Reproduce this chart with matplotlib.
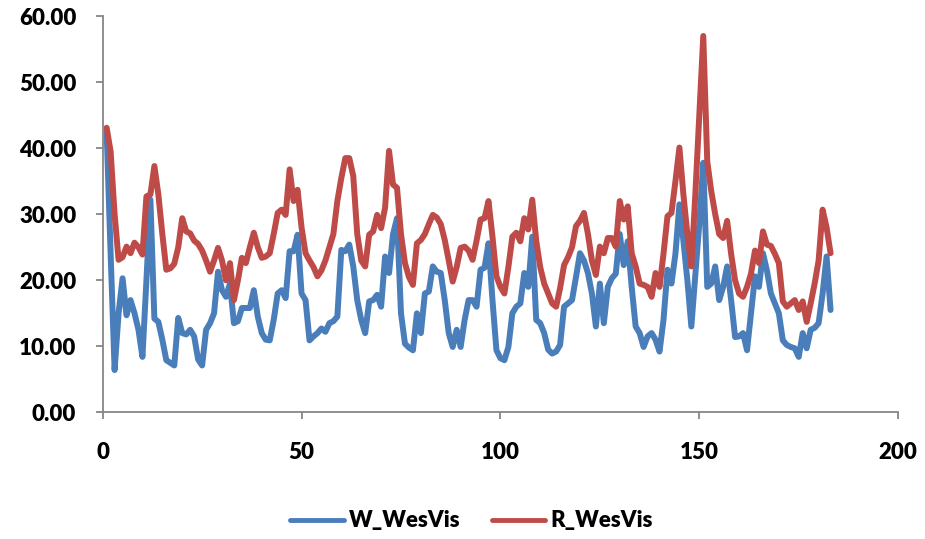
import numpy as np
import matplotlib
matplotlib.use("Agg")
import matplotlib.pyplot as plt

plt.rcParams['font.family'] = ['Lato', 'DejaVu Sans']
plt.rcParams['font.weight'] = 'heavy'

# series values, day index 1..183
w_wesvis = [42.4, 24, 6.4, 15, 20.3, 14.7, 17, 15, 12.5, 8.4,
            20, 32.2, 14.2, 13.7, 11, 7.9, 7.5, 7.1, 14.3, 12,
            11.8, 12.5, 11.5, 8, 7.1, 12.5, 13.5, 15, 21.3, 18.5,
            17.5, 19.5, 13.5, 13.8, 15.8, 15.8, 15.8, 18.5, 14.5, 12,
            11, 10.9, 14, 18, 18.5, 17.3, 24.4, 24.4, 26.9, 18,
            17, 10.9, 11.5, 12, 12.7, 12.2, 13.5, 13.8, 14.5, 24.6,
            24.4, 25.4, 22.1, 17, 14, 12, 16.8, 17, 17.8, 16,
            23.6, 21.1, 27, 29.4, 15, 10.4, 9.8, 9.4, 15, 12,
            18, 18.3, 22.1, 21.3, 21.1, 17, 12, 9.9, 12.5, 9.9,
            14, 17, 17, 16, 21.6, 21.9, 25.6, 17, 9.4, 8.2,
            7.9, 9.9, 15, 16, 16.5, 21.1, 19, 26.6, 14, 13.5,
            12, 9.5, 8.9, 9.2, 10.2, 16, 16.5, 17, 20.5, 24.1,
            23, 21.1, 18, 13, 19.5, 13.5, 19, 20.3, 21, 27,
            22.3, 25.9, 19, 13, 12, 9.9, 11.5, 12, 11, 9.2,
            14, 21.6, 19.5, 24, 31.5, 26, 20, 13, 20.7, 28.6,
            37.8, 19, 19.5, 22.1, 17, 19, 22.1, 17, 11.4, 11.5,
            12, 9.4, 15, 20.6, 19, 24.1, 21.5, 18, 16.5, 15,
            10.9, 10.2, 9.9, 9.7, 8.4, 12, 9.7, 12.5, 12.8, 13.5,
            18, 23.6, 15.5]

r_wesvis = [43.1, 39.5, 30, 23.1, 23.5, 25.1, 24.1, 25.7, 25, 23.9,
            32.7, 33, 37.3, 33, 27, 21.6, 21.8, 22.5, 25, 29.4,
            27.4, 27.1, 26, 25.5, 24.5, 23, 21.3, 23, 24.9, 23,
            20, 22.6, 17, 20, 23.4, 22.6, 25, 27.2, 25, 23.4,
            23.6, 24.1, 27, 30.2, 30.7, 29.9, 36.8, 32, 33.7, 28,
            24.1, 23, 22, 20.6, 21.5, 23, 25, 27, 32, 35.5,
            38.5, 38.5, 35.8, 27, 23, 22.1, 26.9, 27.4, 29.9, 27.9,
            31, 39.6, 34.5, 34, 27, 22.6, 20.5, 19.3, 25.6, 26.1,
            27, 28.5, 29.9, 29.5, 28.5, 26.1, 23, 19.8, 22, 24.9,
            25.1, 24.5, 23.1, 26, 29.2, 29.4, 32, 26.6, 20.6, 19,
            18, 22, 26.6, 27.2, 25.9, 29.4, 27.7, 32.2, 26, 22,
            19.5, 18, 16.5, 16, 18.8, 22.3, 23.5, 25, 28.2, 29,
            30.2, 27, 23, 20.8, 25.1, 24.1, 26.4, 26.4, 25.1, 32,
            29.2, 31.2, 24.1, 22.1, 19.5, 19.3, 19, 17.5, 21.1, 19,
            24, 29.7, 30.2, 35, 40.1, 33, 27, 22.1, 33, 45,
            57, 38, 33.5, 30, 27, 26.4, 29, 24, 20, 18,
            17.5, 19, 21, 24.5, 22.6, 27.4, 25.4, 25.2, 24, 22.6,
            16.8, 16, 16.5, 17, 15.5, 16.8, 13.7, 16.5, 19.5, 23,
            30.7, 28, 24.1]

days = np.arange(1, len(w_wesvis) + 1)

x_ticks = [0, 50, 100, 150, 200]
y_ticks = [0, 10, 20, 30, 40, 50, 60]

fig = plt.figure(figsize=(9.25, 5.39), dpi=100)
ax = fig.add_axes([0.111, 0.235, 0.860, 0.735])

ax.plot(days, w_wesvis, color='#4A7EBB', lw=4.3, solid_joinstyle='round',
        solid_capstyle='round', label='W_WesVis')
ax.plot(days, r_wesvis, color='#BE4B48', lw=4.3, solid_joinstyle='round',
        solid_capstyle='round', label='R_WesVis')

ax.set_xlim(0, 200)
ax.set_ylim(0, 60)
ax.set_xticks(x_ticks)
ax.set_yticks(y_ticks)
ax.set_yticklabels([f'{v:.2f}' for v in y_ticks])

for s in ['top', 'right']:
    ax.spines[s].set_visible(False)
for s in ['left', 'bottom']:
    ax.spines[s].set_color('#868686')
    ax.spines[s].set_linewidth(1.3)

ax.tick_params(axis='both', colors='#868686', labelcolor='black',
               labelsize=16, width=1.3)
ax.tick_params(axis='y', length=5, pad=14)
ax.tick_params(axis='x', length=5, pad=16)

leg = fig.legend(loc='center', bbox_to_anchor=(0.51, 1 - 521 / 539), ncol=2,
                 frameon=False, fontsize=16, handlelength=2.4,
                 handletextpad=0.25, columnspacing=1.4)
for h in leg.legend_handles:
    h.set_linewidth(3.5)

fig.savefig('out.png', dpi=100)
